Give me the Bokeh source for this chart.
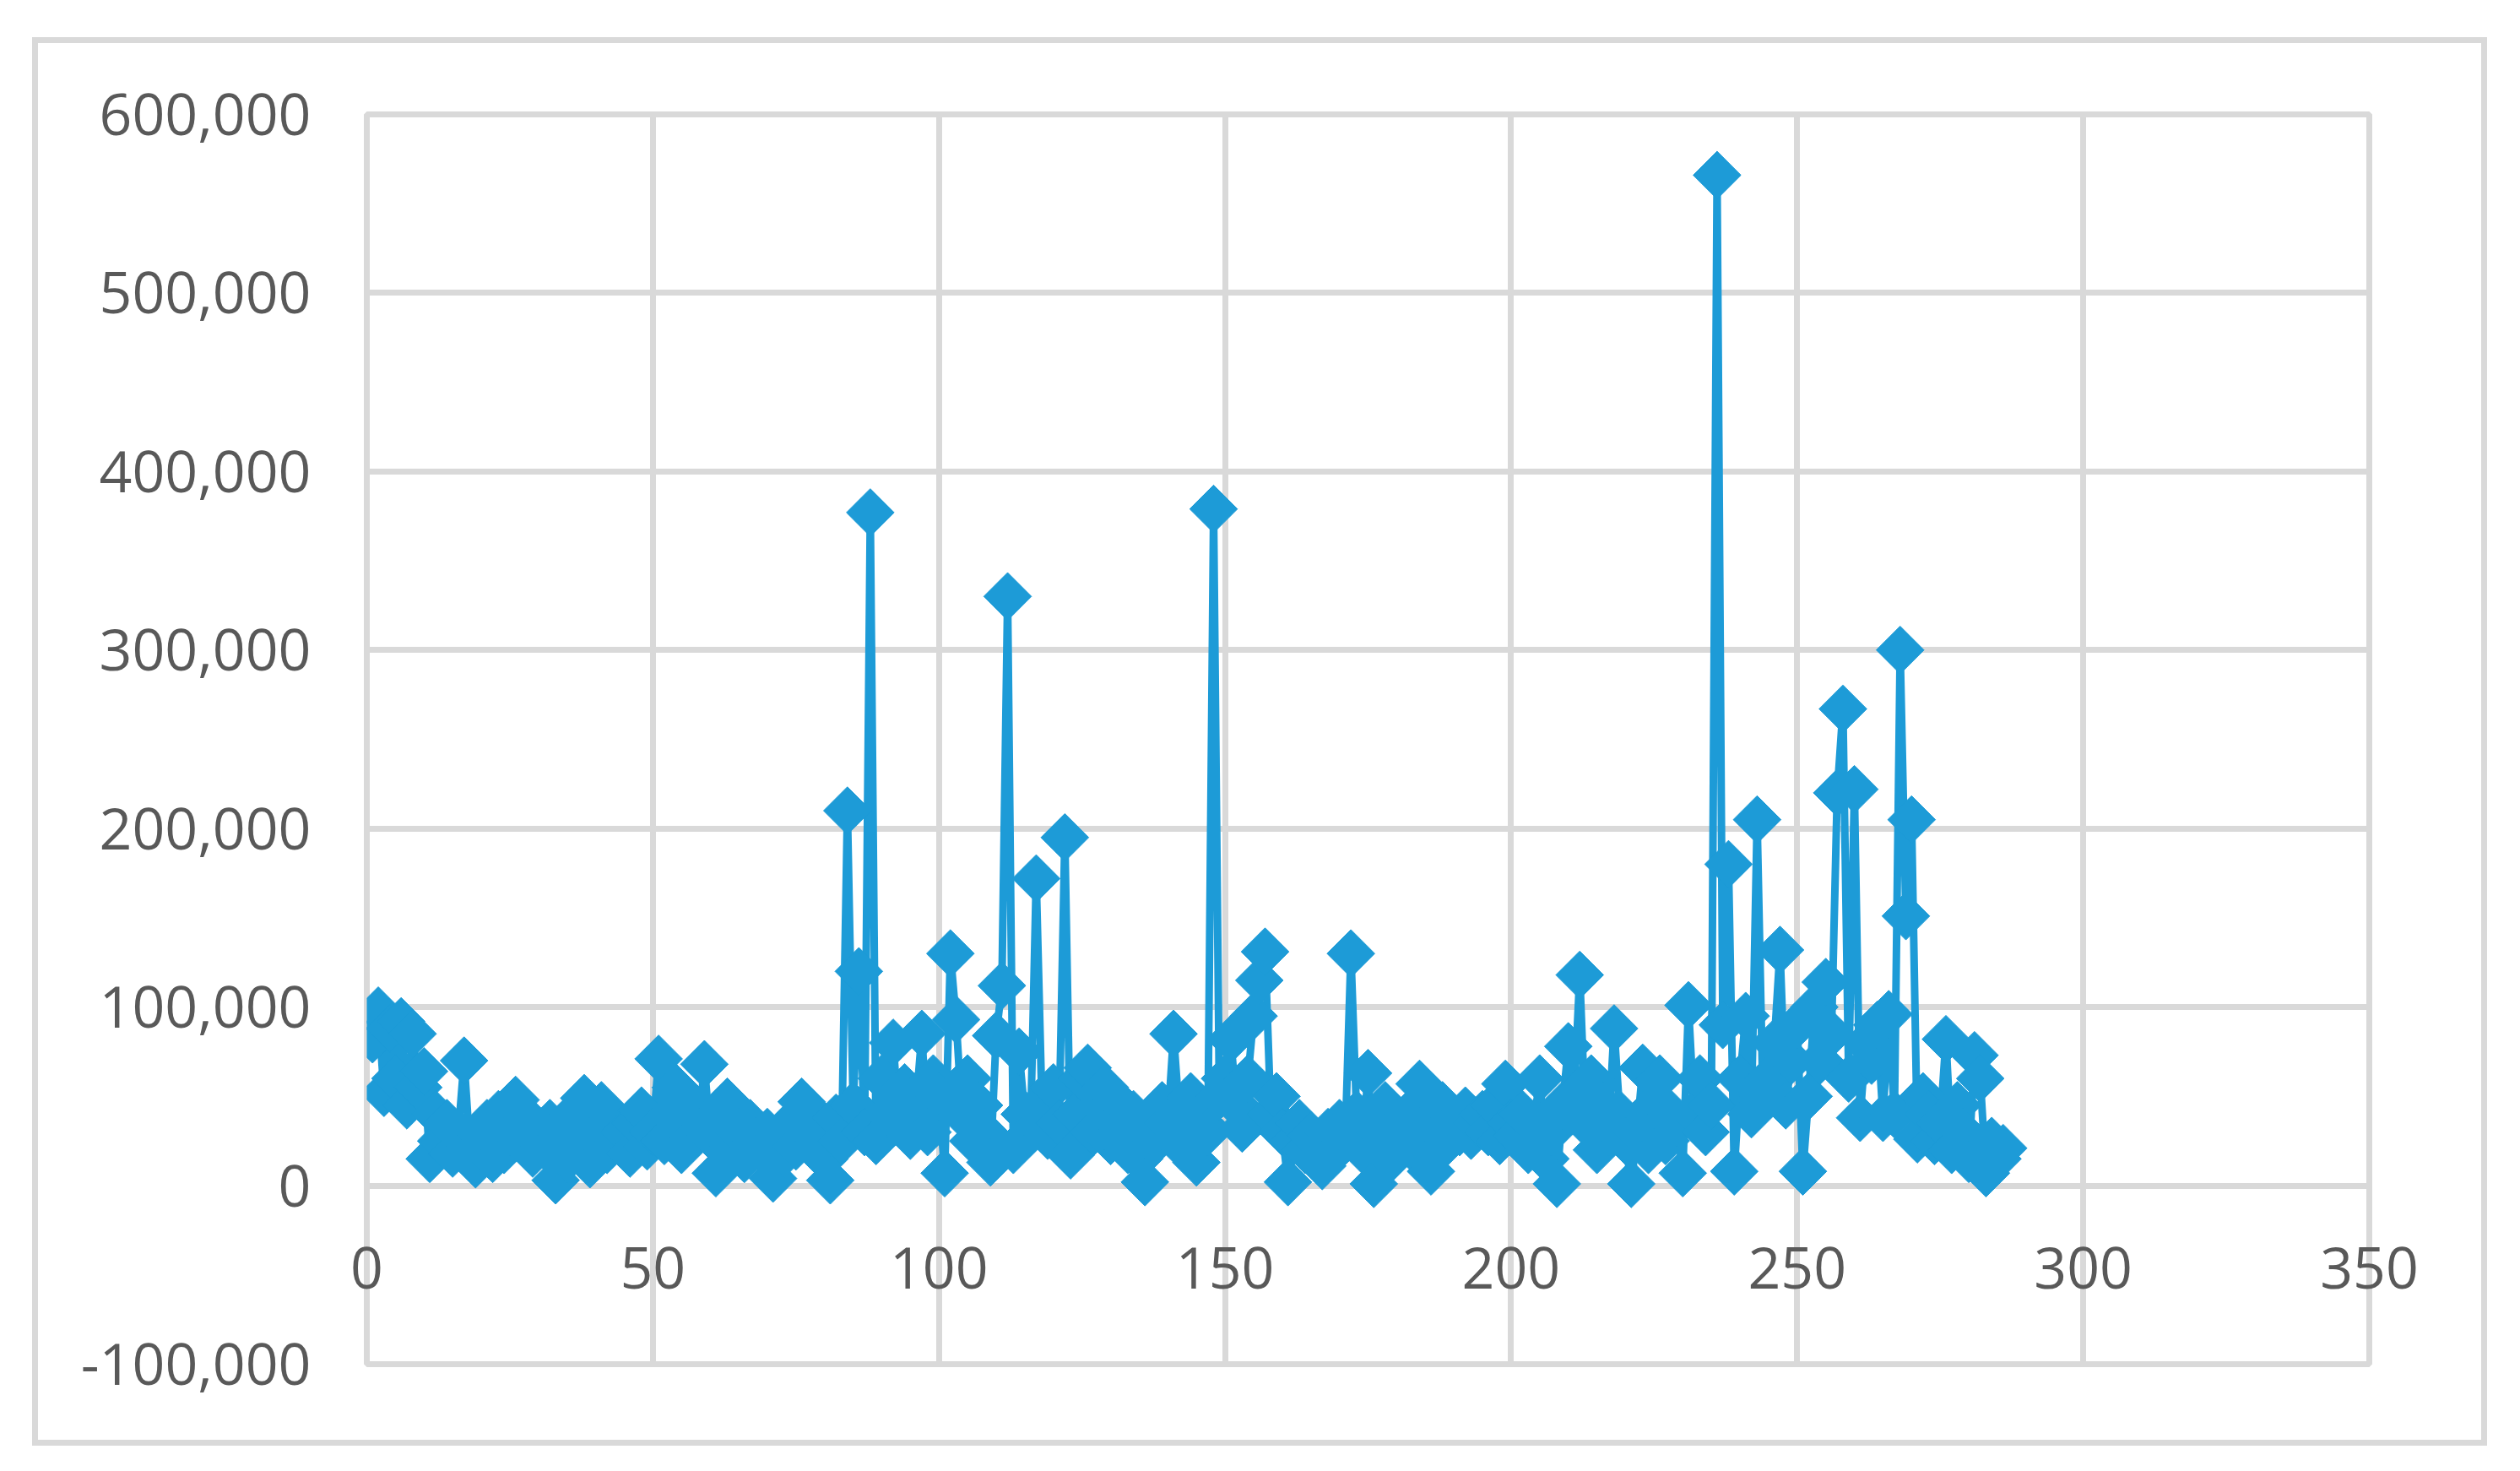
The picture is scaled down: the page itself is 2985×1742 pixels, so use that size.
import numpy as np
from bokeh.plotting import figure
from bokeh.models import (FixedTicker, NumeralTickFormatter, Range1d)
from bokeh.embed import file_html
from bokeh.resources import INLINE

# ---- data ----
x_index = list(range(1, 287))
y_values = [
    82000, 98000, 52000, 88000, 60000, 92000, 45000, 85000, 55000, 64000,
    15000, 40000, 25000, 35000, 18000, 30000, 70000, 22000, 12000, 28000,
    35000, 15000, 40000, 20000, 30000, 48000, 25000, 38000, 18000, 30000,
    22000, 35000, 3000, 28000, 15000, 40000, 30000, 49000, 12000, 33000,
    45000, 20000, 38000, 25000, 30000, 18000, 35000, 42000, 22000, 30000,
    71000, 25000, 40000, 55000, 20000, 35000, 45000, 30000, 68000, 28000,
    7000, 38000, 47000, 22000, 30000, 15000, 35000, 25000, 20000, 30000,
    4000, 28000, 18000, 35000, 22000, 47000, 30000, 40000, 25000, 15000,
    3000, 38000, 25000, 210000, 45000, 120000, 30000, 377000, 25000, 60000,
    40000, 80000, 35000, 55000, 28000, 45000, 85000, 30000, 60000, 50000,
    7000, 130000, 93000, 40000, 60000, 25000, 45000, 30000, 13000, 84000,
    112000, 330000, 20000, 75000, 40000, 30000, 172000, 45000, 28000, 55000,
    35000, 195000, 17000, 40000, 60000, 66000, 30000, 45000, 55000, 25000,
    48000, 35000, 20000, 40000, 15000, 2000, 30000, 25000, 45000, 35000,
    85000, 40000, 20000, 50000, 13000, 35000, 30000, 379000, 50000, 60000,
    82000, 45000, 32000, 60000, 95000, 115000, 131000, 40000, 50000, 30000,
    2000, 25000, 35000, 20000, 28000, 15000, 11000, 30000, 22000, 35000,
    25000, 130000, 40000, 20000, 63000, 1000, 30000, 45000, 15000, 35000,
    25000, 40000, 20000, 57000, 30000, 8000, 35000, 45000, 25000, 38000,
    30000, 42000, 28000, 35000, 40000, 30000, 45000, 25000, 57000, 35000,
    28000, 40000, 20000, 35000, 60000, 15000, 30000, 1000, 45000, 78000,
    50000, 118000, 35000, 60000, 20000, 45000, 30000, 88000, 40000, 25000,
    1000, 30000, 66000, 20000, 45000, 60000, 25000, 40000, 35000, 7000,
    101000, 40000, 60000, 30000, 45000, 566000, 90000, 180000, 8000, 60000,
    95000, 40000, 205000, 50000, 60000, 80000, 132000, 45000, 70000, 90000,
    8000, 50000, 100000, 70000, 114000, 85000, 220000, 267000, 60000, 222000,
    38000, 80000, 70000, 90000, 38000, 96000, 40000, 300000, 151000, 205000,
    26000, 50000, 40000, 25000, 35000, 82000, 20000, 45000, 30000, 15000,
    73000, 60000, 7000, 25000, 15000, 21000,
]
x_ticks = [0, 50, 100, 150, 200, 250, 300, 350]
x_tick_labels = ["0", "50", "100", "150", "200", "250", "300", "350"]
y_ticks = [-100000, 0, 100000, 200000, 300000, 400000, 500000, 600000]

BLUE = "#1d9bd7"
GRID = "#d9d9d9"
TEXT = "#595959"
FONT = "Open Sans"

p = figure(width=2908, height=1668, output_backend="svg", toolbar_location=None,
           x_range=Range1d(0, 350), y_range=Range1d(-100000, 600000),
           x_axis_location="below", y_axis_location="left",
           min_border_left=389, min_border_right=147,
           min_border_top=84, min_border_bottom=104,
           background_fill_color="white", border_fill_color="white")
p.margin = (44, 0, 0, 38)
p.styles = {"border": "7px solid #d9d9d9"}

p.outline_line_color = GRID
p.outline_line_width = 7

# y axis
p.yaxis.ticker = FixedTicker(ticks=y_ticks)
p.yaxis.formatter = NumeralTickFormatter(format="0,0")
p.yaxis.major_label_standoff = 66

# x axis: labels sit just under the zero line, like Excel's "next to axis"
p.xaxis.ticker = FixedTicker(ticks=x_ticks)
p.xaxis.major_label_overrides = dict(zip(x_ticks, x_tick_labels))
p.xaxis.major_label_standoff = -139

for ax in (p.xaxis, p.yaxis):
    ax.axis_line_color = None
    ax.major_tick_line_color = None
    ax.minor_tick_line_color = None
    ax.major_tick_out = 0
    ax.major_tick_in = 0
    ax.major_label_text_font = FONT
    ax.major_label_text_font_size = "68px"
    ax.major_label_text_color = TEXT

for g in (p.xgrid, p.ygrid):
    g.grid_line_color = GRID
    g.grid_line_width = 7

# series
p.line(x_index, y_values, line_color=BLUE, line_width=9, line_join="round")
p.scatter(x_index, y_values, marker="square", angle=np.pi / 4, size=40,
          fill_color=BLUE, line_color=BLUE)

open("out.html", "w").write(file_html(p, INLINE))
